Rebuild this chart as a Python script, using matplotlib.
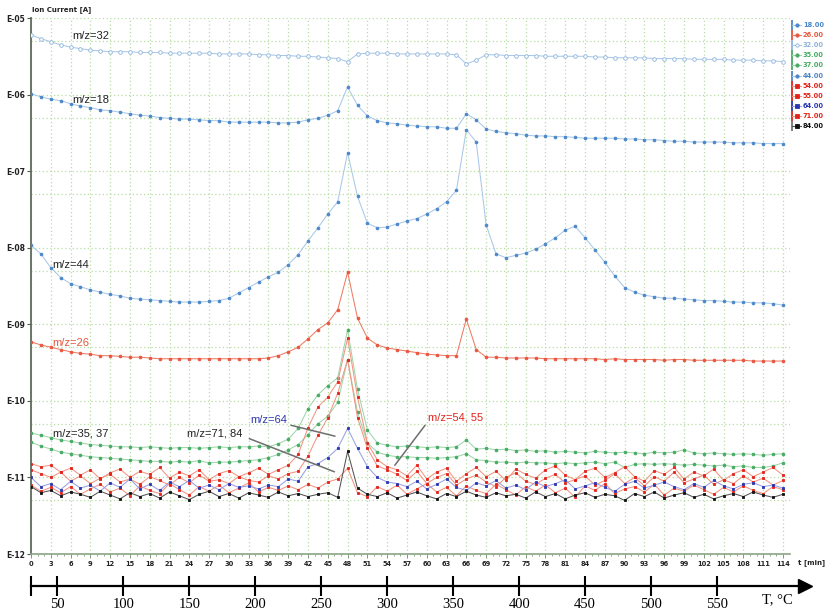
import numpy as np
import matplotlib
matplotlib.use("Agg")
import matplotlib.pyplot as plt

W, H = 829, 610

# one scan every 1.5 min
t_min = np.arange(77) * 1.5

# log10 of ion current [A]
lg_32 = [-5.22, -5.27, -5.31, -5.35, -5.38, -5.40, -5.42, -5.43, -5.44, -5.44,
         -5.44, -5.45, -5.45, -5.45, -5.46, -5.46, -5.46, -5.46, -5.46, -5.47,
         -5.47, -5.47, -5.47, -5.48, -5.48, -5.49, -5.49, -5.50, -5.50, -5.51,
         -5.52, -5.53, -5.57, -5.47, -5.46, -5.46, -5.46, -5.47, -5.47, -5.47,
         -5.47, -5.47, -5.47, -5.48, -5.60, -5.55, -5.48, -5.48, -5.49, -5.49,
         -5.49, -5.49, -5.50, -5.50, -5.50, -5.50, -5.50, -5.51, -5.51, -5.52,
         -5.52, -5.52, -5.52, -5.53, -5.53, -5.53, -5.53, -5.54, -5.54, -5.54,
         -5.54, -5.55, -5.55, -5.55, -5.56, -5.56, -5.57]
lg_18 = [-5.99, -6.03, -6.06, -6.08, -6.12, -6.15, -6.17, -6.20, -6.21, -6.23,
         -6.25, -6.27, -6.28, -6.30, -6.31, -6.32, -6.32, -6.33, -6.34, -6.34,
         -6.36, -6.36, -6.36, -6.36, -6.36, -6.37, -6.37, -6.36, -6.33, -6.31,
         -6.27, -6.21, -5.90, -6.14, -6.28, -6.34, -6.37, -6.38, -6.40, -6.41,
         -6.42, -6.42, -6.44, -6.44, -6.25, -6.33, -6.45, -6.48, -6.50, -6.51,
         -6.53, -6.54, -6.54, -6.55, -6.55, -6.56, -6.57, -6.57, -6.57, -6.57,
         -6.58, -6.58, -6.59, -6.59, -6.60, -6.61, -6.61, -6.62, -6.62, -6.62,
         -6.62, -6.63, -6.63, -6.63, -6.64, -6.64, -6.64]
lg_44 = [-7.97, -8.08, -8.26, -8.39, -8.47, -8.51, -8.55, -8.58, -8.61, -8.63,
         -8.66, -8.67, -8.68, -8.69, -8.70, -8.71, -8.71, -8.71, -8.70, -8.69,
         -8.66, -8.59, -8.52, -8.45, -8.38, -8.32, -8.22, -8.09, -7.91, -7.74,
         -7.56, -7.40, -6.76, -7.33, -7.68, -7.74, -7.73, -7.69, -7.65, -7.62,
         -7.56, -7.49, -7.40, -7.25, -6.46, -6.62, -7.70, -8.08, -8.13, -8.10,
         -8.07, -8.02, -7.95, -7.87, -7.77, -7.72, -7.87, -8.03, -8.19, -8.37,
         -8.52, -8.58, -8.62, -8.64, -8.66, -8.66, -8.67, -8.68, -8.69, -8.69,
         -8.70, -8.71, -8.71, -8.72, -8.72, -8.73, -8.75]
lg_26 = [-9.23, -9.27, -9.30, -9.33, -9.36, -9.38, -9.39, -9.41, -9.41, -9.42,
         -9.43, -9.43, -9.44, -9.45, -9.45, -9.45, -9.45, -9.45, -9.45, -9.45,
         -9.45, -9.45, -9.45, -9.45, -9.44, -9.41, -9.36, -9.30, -9.19, -9.07,
         -8.98, -8.81, -8.32, -8.92, -9.18, -9.27, -9.31, -9.33, -9.35, -9.37,
         -9.39, -9.40, -9.41, -9.41, -8.93, -9.33, -9.43, -9.43, -9.44, -9.44,
         -9.44, -9.44, -9.45, -9.45, -9.45, -9.45, -9.45, -9.45, -9.46, -9.45,
         -9.46, -9.46, -9.46, -9.46, -9.47, -9.46, -9.46, -9.47, -9.47, -9.47,
         -9.47, -9.47, -9.47, -9.48, -9.48, -9.48, -9.48]
lg_35 = [-10.42, -10.45, -10.48, -10.51, -10.53, -10.55, -10.57, -10.58, -10.59, -10.60,
         -10.60, -10.61, -10.60, -10.61, -10.62, -10.61, -10.61, -10.62, -10.61, -10.60,
         -10.61, -10.60, -10.60, -10.59, -10.60, -10.56, -10.50, -10.36, -10.10, -9.92,
         -9.80, -9.70, -9.07, -9.85, -10.38, -10.55, -10.58, -10.60, -10.59, -10.60,
         -10.61, -10.60, -10.61, -10.60, -10.51, -10.63, -10.62, -10.64, -10.63, -10.65,
         -10.64, -10.66, -10.65, -10.67, -10.66, -10.67, -10.68, -10.66, -10.67, -10.68,
         -10.67, -10.68, -10.69, -10.67, -10.68, -10.67, -10.64, -10.68, -10.69, -10.68,
         -10.69, -10.70, -10.69, -10.70, -10.71, -10.70, -10.69]
lg_37 = [-10.54, -10.59, -10.63, -10.67, -10.69, -10.71, -10.73, -10.74, -10.75, -10.76,
         -10.77, -10.78, -10.79, -10.79, -10.80, -10.79, -10.80, -10.78, -10.81, -10.80,
         -10.80, -10.79, -10.78, -10.77, -10.74, -10.70, -10.64, -10.57, -10.44, -10.30,
         -10.20, -10.02, -9.46, -10.15, -10.55, -10.67, -10.71, -10.73, -10.73, -10.74,
         -10.74, -10.75, -10.74, -10.73, -10.69, -10.77, -10.78, -10.80, -10.80, -10.81,
         -10.80, -10.81, -10.81, -10.82, -10.81, -10.82, -10.81, -10.80, -10.82, -10.80,
         -10.87, -10.83, -10.82, -10.83, -10.82, -10.83, -10.84, -10.83, -10.84, -10.85,
         -10.84, -10.86, -10.85, -10.87, -10.87, -10.85, -10.81]
lg_54 = [-10.82, -10.86, -10.84, -10.93, -10.88, -10.97, -10.90, -11.02, -10.94, -10.89,
         -11.00, -10.92, -10.96, -10.87, -11.01, -10.93, -10.98, -10.90, -11.03, -10.95,
         -10.91, -10.99, -10.94, -10.88, -10.96, -10.90, -10.84, -10.70, -10.35, -10.08,
         -9.95, -9.75, -9.18, -9.95, -10.55, -10.77, -10.86, -10.90, -10.98, -10.84,
         -11.02, -10.93, -10.88, -11.05, -10.95, -10.87, -10.99, -10.92, -11.04, -10.89,
         -10.96, -11.01, -10.90, -10.85, -10.97, -11.03, -10.92, -10.88, -11.00, -10.94,
         -10.86, -10.99, -11.05, -10.91, -10.96, -10.87, -11.02, -10.93, -10.98, -10.89,
         -11.04, -10.95, -10.90, -10.99, -10.93, -10.87, -10.97]
lg_55 = [-10.90, -10.95, -11.00, -10.93, -11.05, -10.98, -11.08, -11.01, -10.96, -11.06,
         -11.02, -11.09, -10.99, -11.04, -11.10, -11.00, -11.07, -10.97, -11.05, -11.03,
         -11.08, -10.99, -11.04, -11.06, -10.98, -11.02, -10.95, -10.92, -10.72, -10.45,
         -10.22, -9.90, -9.46, -10.22, -10.62, -10.85, -10.90, -10.96, -11.04, -10.92,
         -11.08, -11.00, -10.95, -11.10, -11.02, -10.97, -11.06, -11.12, -11.00, -10.94,
         -11.05, -11.09, -11.01, -10.96, -11.07, -11.03, -10.98, -11.10, -11.04, -10.95,
         -11.08, -11.00, -11.11, -10.99, -11.05, -10.93, -11.07, -11.02, -10.97, -11.09,
         -11.03, -11.08, -10.98, -11.06, -11.01, -11.10, -11.04]
lg_71 = [-11.10, -11.18, -11.13, -11.20, -11.12, -11.22, -11.15, -11.09, -11.19, -11.14,
         -11.24, -11.11, -11.17, -11.21, -11.08, -11.16, -11.23, -11.12, -11.18, -11.10,
         -11.20, -11.14, -11.07, -11.19, -11.13, -11.17, -11.11, -11.16, -11.09, -11.14,
         -11.06, -11.02, -10.88, -11.20, -11.25, -11.12, -11.18, -11.10, -11.22, -11.15,
         -11.08, -11.19, -11.13, -11.24, -11.11, -11.17, -11.21, -11.09, -11.16, -11.23,
         -11.12, -11.18, -11.10, -11.20, -11.14, -11.26, -11.11, -11.17, -11.08, -11.21,
         -11.15, -11.12, -11.19, -11.09, -11.23, -11.14, -11.18, -11.10, -11.16, -11.22,
         -11.13, -11.19, -11.11, -11.17, -11.21, -11.12, -11.16]
lg_64 = [-11.00, -11.12, -11.08, -11.16, -11.05, -11.14, -11.10, -11.18, -11.07, -11.13,
         -11.02, -11.15, -11.09, -11.17, -11.06, -11.12, -11.04, -11.14, -11.10, -11.16,
         -11.08, -11.13, -11.11, -11.15, -11.10, -11.12, -11.02, -11.05, -10.86, -10.82,
         -10.74, -10.62, -10.36, -10.62, -10.86, -11.00, -11.06, -11.08, -11.12, -11.05,
         -11.15, -11.09, -11.02, -11.13, -11.17, -11.07, -11.11, -11.04, -11.14, -11.10,
         -11.16, -11.06, -11.12, -11.08, -11.03, -11.15, -11.11, -11.07, -11.13, -11.18,
         -11.09, -11.05, -11.14, -11.10, -11.06, -11.12, -11.16, -11.08, -11.13, -11.04,
         -11.11, -11.15, -11.09, -11.07, -11.12, -11.10, -11.14]
lg_84 = [-11.12, -11.20, -11.17, -11.24, -11.19, -11.22, -11.26, -11.18, -11.23, -11.28,
         -11.20, -11.25, -11.21, -11.27, -11.19, -11.24, -11.29, -11.22, -11.18, -11.25,
         -11.21, -11.27, -11.20, -11.23, -11.26, -11.19, -11.24, -11.21, -11.25, -11.22,
         -11.20, -11.26, -10.66, -11.14, -11.22, -11.25, -11.20, -11.27, -11.23, -11.19,
         -11.24, -11.28, -11.21, -11.25, -11.18, -11.23, -11.26, -11.20, -11.24, -11.22,
         -11.27, -11.19, -11.25, -11.21, -11.28, -11.23, -11.20, -11.26, -11.22, -11.24,
         -11.30, -11.21, -11.25, -11.19, -11.27, -11.23, -11.20, -11.26, -11.22, -11.28,
         -11.24, -11.21, -11.25, -11.19, -11.23, -11.26, -11.22]

legend_labels = ["18.00", "26.00", "32.00", "35.00", "37.00", "44.00",
                 "54.00", "55.00", "64.00", "71.00", "84.00"]
y_labels = ["E-12", "E-11", "E-10", "E-09", "E-08", "E-07", "E-06", "E-05"]
t_labels = np.arange(0, 115, 3)
T_labels = [50, 100, 150, 200, 250, 300, 350, 400, 450, 500, 550]

BLUE = "#4a86c8"
BLUE_L = "#a9c8e8"
SALMON = "#ef7a64"
GREEN = "#45ab62"
GREEN_L = "#9fd6ac"
RED = "#e3231b"
RED_L = "#f39482"
NAVY = "#2a36b0"
NAVY_L = "#98a0e4"

# label -> (data, line colour, marker colour, marker, face)
series = {
    "32.00": (lg_32, BLUE_L, "#8db3dc", "o", "white"),
    "18.00": (lg_18, BLUE_L, BLUE, "o", BLUE),
    "44.00": (lg_44, BLUE_L, BLUE, "o", BLUE),
    "26.00": (lg_26, SALMON, "#e8553f", "o", "#e8553f"),
    "35.00": (lg_35, GREEN_L, GREEN, "o", GREEN),
    "37.00": (lg_37, GREEN_L, GREEN, "o", GREEN),
    "54.00": (lg_54, RED_L, RED, "s", RED),
    "55.00": (lg_55, RED_L, RED, "s", RED),
    "71.00": (lg_71, RED_L, RED, "s", RED),
    "64.00": (lg_64, NAVY_L, NAVY, "s", NAVY),
    "84.00": (lg_84, "#555555", "#111111", "s", "#111111"),
}

fig = plt.figure(figsize=(W / 100, H / 100), dpi=100)

x_right = 790
ax = fig.add_axes([31 / W, 1 - 554 / H, (x_right - 31) / W, (554 - 18) / H])
ax.set_yscale("log")
ax.set_ylim(1e-12, 1e-5)
ax.set_xlim(0, (x_right - 31) / 6.596)

grid_kw = dict(color="#b7dda5", linestyle=(0, (1, 2)), linewidth=0.9)
for tv in t_labels:
    ax.axvline(tv, zorder=0, **grid_kw)
for e in range(-12, -4):
    ax.axhline(10.0 ** e, zorder=0, **grid_kw)
    if e < -5:
        ax.axhline(5 * 10.0 ** e, zorder=0, **grid_kw)

for lab, (lg, lc, mc, mk, mf) in series.items():
    ms = 2.6 if mf == "white" else (2.0 if mk == "o" else 1.9)
    ax.plot(t_min, 10 ** np.array(lg), color=lc, lw=0.75, marker=mk,
            ms=ms, mfc=mf, mec=mc, mew=0.6, zorder=3)

ax.set_yticks([10.0 ** e for e in range(-12, -4)])
ax.set_yticklabels(y_labels)
ax.minorticks_off()
ax.set_xticks(t_labels)
ax.set_xticklabels([str(v) for v in t_labels])
ax.set_xticks(np.arange(0, 115, 1), minor=True)
ax.tick_params(axis="y", length=3, width=0.8, color="#555555", pad=1,
               labelsize=5.5, labelcolor="#222222")
ax.tick_params(axis="x", which="major", length=3, width=0.7, color="#7d9a78",
               pad=2, labelsize=4.8, labelcolor="#222222")
ax.tick_params(axis="x", which="minor", length=1.5, width=0.6, color="#7d9a78")
for lbl in ax.get_xticklabels() + ax.get_yticklabels():
    lbl.set_fontweight("bold")
for s in ("top", "right"):
    ax.spines[s].set_visible(False)
ax.spines["left"].set_color("#5d6b5d")
ax.spines["left"].set_linewidth(1.3)
ax.spines["bottom"].set_color("#8aa585")
ax.spines["bottom"].set_linewidth(1.2)

# peak labels
txt = dict(fontsize=8, family="Liberation Sans", va="center", ha="left", zorder=5)
ax.text(6.2, 10 ** -5.23, "m/z=32", color="#222222", **txt)
ax.text(6.2, 10 ** -6.07, "m/z=18", color="#222222", **txt)
ax.text(3.3, 10 ** -8.22, "m/z=44", color="#222222", **txt)
ax.text(3.3, 10 ** -9.24, "m/z=26", color="#e8553f", **txt)
ax.text(3.3, 10 ** -10.42, "m/z=35, 37", color="#222222", **txt)
ax.text(23.7, 10 ** -10.42, "m/z=71, 84", color="#222222", **txt)
ax.text(33.2, 10 ** -10.25, "m/z=64", color=NAVY, **txt)
ax.text(60.2, 10 ** -10.22, "m/z=54, 55", color=RED, **txt)

lead = dict(arrowstyle="-", color="#6e6e6e", lw=1.1)
ax.annotate("", xy=(46.5, 10 ** -10.47), xytext=(39.0, 10 ** -10.31), arrowprops=lead)
ax.annotate("", xy=(46.4, 10 ** -10.94), xytext=(32.7, 10 ** -10.48), arrowprops=lead)
ax.annotate("", xy=(54.9, 10 ** -10.87), xytext=(60.0, 10 ** -10.29), arrowprops=lead)

fig.text(32 / W, 1 - 10 / H, "Ion Current [A]", fontsize=5, fontweight="bold",
         color="#222222", va="center")
fig.text(798 / W, 1 - 563 / H, "t [min]", fontsize=5, fontweight="bold",
         color="#222222", va="center")

# temperature scale (5 K/min from 30 °C)
x_end = 805
axT = fig.add_axes([31 / W, 1 - 586 / H, (x_end - 31) / W, 0.0001])
axT.patch.set_visible(False)
axT.set_xlim(30, 30 + (x_end - 31) / 1.3193)
for s in ("top", "left", "right"):
    axT.spines[s].set_visible(False)
axT.spines["bottom"].set_linewidth(1.6)
axT.set_yticks([])
axT.set_xticks(T_labels)
axT.set_xticks([30], minor=True)
axT.tick_params(axis="x", which="both", direction="inout", length=15, width=1.5,
                pad=1, labelsize=10.5)
for lbl in axT.get_xticklabels():
    lbl.set_family("Liberation Serif")
axT.plot([1.0], [0.0], marker=">", ms=10, color="black",
         transform=axT.transAxes, clip_on=False)
fig.text(762 / W, 1 - 600 / H, "T, °C", fontsize=10.5, family="Liberation Serif",
         va="center")

# legend column on the right, in pixel coordinates
lg_ax = fig.add_axes([0, 0, 1, 1])
lg_ax.set_xlim(0, W)
lg_ax.set_ylim(H, 0)
lg_ax.axis("off")
for i, lab in enumerate(legend_labels):
    _, lc, mc, mk, mf = series[lab]
    y = 25 + 10.1 * i
    lg_ax.plot([792, 792], [y - 5, y + 5], color=mc if mc != "#111111" else "#777777",
               lw=1.3, solid_capstyle="butt")
    lg_ax.plot([792, 801], [y, y], color=lc, lw=0.8)
    lg_ax.plot([797], [y], marker=mk, ms=2.4, mfc=mf, mec=mc, mew=0.6)
    lg_ax.text(803, y, lab, fontsize=4.8, fontweight="bold", color=mc, va="center")

fig.savefig("out.png", dpi=100)
